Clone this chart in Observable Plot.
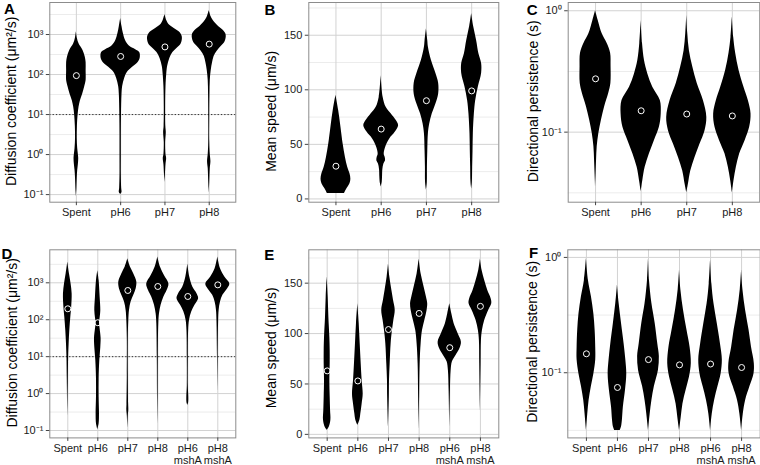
<!DOCTYPE html>
<html><head><meta charset="utf-8">
<script src="https://cdn.jsdelivr.net/npm/d3@7"></script>
<script src="https://cdn.jsdelivr.net/npm/@observablehq/plot@0.6"></script>
<style>
body{margin:0;background:#fff;}
#root{position:relative;width:760px;height:465px;overflow:hidden;font-family:"Liberation Sans",Arial,Helvetica,sans-serif;}
.panel{position:absolute;}
.panel svg{overflow:visible;}
</style></head><body><div id="root"></div>
<script>
// ---- categories / tick labels ----
const catsTop = ["Spent", "pH6", "pH7", "pH8"];
const catsBottom = ["Spent", "pH6", "pH7", "pH8", "pH6\nmshA", "pH8\nmshA"];
const decadesAD = [-1, 0, 1, 2, 3];          // log10 of major ticks
const halfDecadesAD = [-0.5, 0.5, 1.5, 2.5, 3.5];
const decadesCF = [-1, 0];
const halfDecadesCF = [-1.5, -0.5];
const speedTicks = [0, 50, 100, 150];
const speedMinor = [25, 75, 125, 175];

// ---- violin profiles: [value (log10 for log panels), half-width as fraction of category spacing] ----
// A: Diffusion coefficient (log10 µm²/s)
const profA = [
  [[3.07,0],[2.9,.023],[2.77,.06],[2.6,.15],[2.44,.2],[2.3,.22],[2.1,.22],[1.85,.22],[1.7,.19],[1.5,.14],[1.34,.09],[1.18,.06],[1.0,.04],[0.7,.023],[0.4,.019],[0.15,.03],[-0.1,.053],[-0.25,.045],[-0.4,.03],[-0.6,.019],[-0.85,.011],[-1.05,0]],
  [[3.4,0],[3.2,.03],[3.03,.06],[2.85,.11],[2.72,.19],[2.62,.34],[2.55,.43],[2.4,.44],[2.28,.38],[2.18,.27],[2.05,.15],[1.9,.09],[1.7,.045],[1.5,.03],[1.0,.019],[0.5,.015],[0,.015],[-0.5,.015],[-0.85,.023],[-0.95,.03],[-1.0,0]],
  [[3.5,0],[3.35,.04],[3.25,.09],[3.15,.21],[3.05,.34],[2.95,.39],[2.85,.39],[2.75,.36],[2.65,.27],[2.55,.18],[2.4,.11],[2.2,.06],[2.0,.04],[1.7,.023],[1.2,.015],[0.7,.019],[0.55,.03],[0.3,.015],[0,.023],[-0.1,.038],[-0.25,.023],[-0.5,.011],[-0.7,0]],
  [[3.6,0],[3.45,.04],[3.35,.09],[3.2,.21],[3.1,.32],[3.0,.38],[2.9,.38],[2.8,.35],[2.7,.27],[2.58,.18],[2.45,.11],[2.3,.076],[2.1,.045],[1.85,.023],[1.5,.015],[1.0,.011],[0.3,.011],[0,.023],[-0.17,.038],[-0.35,.023],[-0.7,.011],[-0.97,0]]
];
const meansA = [94, 283, 490, 575];

// B: Mean speed (µm/s)
const profB = [
  [[95,0],[81,.06],[66,.11],[50,.16],[38,.21],[29,.26],[23,.31],[18,.33],[14,.31],[9,.24],[5,.19]],
  [[113,0],[93,.044],[84,.11],[78,.22],[72,.33],[67,.385],[61,.31],[55,.19],[47,.096],[41,.067],[38,.089],[35,.096],[32,.06],[27,.037],[20,.03],[15,.022],[11,0]],
  [[156,0],[145,.03],[139,.044],[127,.11],[115,.21],[106,.27],[96,.27],[87,.21],[78,.13],[69,.074],[60,.044],[44,.03],[29,.022],[15,.019],[8,0]],
  [[170,0],[158,.044],[145,.11],[133,.16],[124,.22],[115,.22],[103,.15],[90,.089],[78,.06],[60,.037],[44,.03],[29,.022],[15,.015],[9,0]]
];
const meansB = [30, 64, 90, 99];

// C: Directional persistence (log10 s)
const profC = [
  [[0.0,0],[-0.08,.058],[-0.19,.146],[-0.27,.255],[-0.35,.33],[-0.46,.34],[-0.6,.336],[-0.68,.29],[-0.79,.2],[-0.9,.13],[-1.01,.073],[-1.12,.036],[-1.23,.022],[-1.34,.011],[-1.45,0]],
  [[-0.08,0],[-0.27,.03],[-0.41,.073],[-0.52,.146],[-0.63,.255],[-0.74,.42],[-0.85,.44],[-0.96,.4],[-1.07,.29],[-1.18,.18],[-1.29,.088],[-1.4,.036],[-1.49,0]],
  [[-0.04,0],[-0.19,.022],[-0.33,.058],[-0.46,.13],[-0.6,.23],[-0.74,.365],[-0.88,.44],[-0.99,.4],[-1.1,.29],[-1.21,.18],[-1.32,.088],[-1.43,.036],[-1.5,0]],
  [[-0.05,0],[-0.22,.03],[-0.35,.073],[-0.49,.146],[-0.63,.255],[-0.74,.35],[-0.85,.41],[-0.96,.38],[-1.07,.28],[-1.18,.16],[-1.29,.088],[-1.4,.036],[-1.5,0]]
];
const meansC = [0.275, 0.150, 0.141, 0.136];

// D: Diffusion coefficient (log10 µm²/s)
const profD = [
  [[3.56,0],[3.24,.056],[2.97,.11],[2.7,.145],[2.34,.13],[2.07,.1],[1.71,.067],[1.35,.044],[0.99,.028],[0.35,.017],[-0.6,0]],
  [[3.33,0],[3.06,.044],[2.61,.078],[2.25,.1],[2.05,.078],[1.92,.056],[1.75,.078],[1.5,.11],[1.25,.1],[0.9,.067],[0.4,.044],[-0.1,.044],[-0.55,.056],[-0.82,.044],[-0.98,0]],
  [[3.65,0],[3.42,.09],[3.24,.2],[3.02,.3],[2.84,.28],[2.66,.2],[2.48,.11],[2.25,.056],[1.98,.033],[1.5,.017],[0.5,.017],[-0.3,.028],[-0.45,.033],[-0.6,.017],[-0.95,0]],
  [[3.7,0],[3.42,.09],[3.2,.22],[2.97,.37],[2.79,.31],[2.61,.2],[2.39,.11],[2.16,.056],[1.89,.033],[1.0,.017],[0,.011],[-0.82,0]],
  [[3.51,0],[3.15,.067],[2.88,.17],[2.7,.31],[2.57,.36],[2.39,.24],[2.21,.13],[1.98,.056],[1.71,.028],[1.0,.017],[0.2,.017],[-0.1,.033],[-0.25,.028],[-0.32,0]],
  [[3.7,0],[3.38,.09],[3.15,.24],[2.97,.4],[2.84,.33],[2.66,.17],[2.48,.09],[2.25,.044],[1.98,.028],[1.0,.011],[0.08,0]]
];
const meansD = [198, 83, 620, 795, 426, 880];

// E: Mean speed (µm/s)
const profE = [
  [[156,0],[136,.033],[116,.055],[96,.087],[83,.098],[70,.098],[53.5,.087],[37,.098],[24,.11],[14,.12],[7,.066],[4,0]],
  [[129.5,0],[110,.044],[90,.077],[70,.11],[53.5,.14],[40,.175],[30,.14],[20.5,.098],[14,.066],[9,0]],
  [[169,0],[156,.044],[143,.11],[133,.164],[123,.22],[113,.175],[103,.13],[90,.087],[70,.055],[53.5,.033],[37,.027],[7,0]],
  [[174,0],[159,.066],[146,.164],[136,.24],[129.5,.28],[123,.26],[113,.186],[103,.11],[90,.066],[70,.033],[37,.016],[4,0]],
  [[129.5,0],[119.6,.066],[110,.14],[100,.27],[91.5,.38],[85,.33],[78,.2],[72,.087],[63,.044],[44,.022],[7,0]],
  [[174,0],[162.5,.055],[152.6,.14],[142.7,.24],[134.5,.35],[129.5,.37],[123,.27],[113,.14],[103,.066],[93,.033],[70,.022],[22,0]]
];
const meansE = [63, 53, 104, 120, 86, 127];

// F: Directional persistence (log10 s)
const profF = [
  [[-0.01,0],[-0.2,.065],[-0.34,.16],[-0.49,.24],[-0.63,.28],[-0.78,.3],[-0.89,.3],[-1.01,.24],[-1.12,.16],[-1.24,.086],[-1.36,.043],[-1.5,0]],
  [[-0.24,0],[-0.4,.054],[-0.57,.13],[-0.75,.215],[-0.89,.27],[-1.01,.3],[-1.15,.26],[-1.3,.19],[-1.41,.16],[-1.47,.13],[-1.5,.09]],
  [[-0.01,0],[-0.2,.032],[-0.4,.11],[-0.57,.215],[-0.75,.3],[-0.86,.35],[-0.98,.32],[-1.12,.19],[-1.24,.11],[-1.36,.054],[-1.5,0]],
  [[-0.11,0],[-0.28,.043],[-0.46,.13],[-0.63,.24],[-0.78,.34],[-0.92,.38],[-1.04,.32],[-1.15,.215],[-1.27,.11],[-1.39,.054],[-1.5,0]],
  [[-0.02,0],[-0.23,.043],[-0.4,.11],[-0.57,.215],[-0.75,.32],[-0.89,.38],[-1.01,.34],[-1.12,.24],[-1.24,.13],[-1.36,.054],[-1.5,0]],
  [[-0.11,0],[-0.28,.043],[-0.46,.13],[-0.63,.24],[-0.78,.32],[-0.92,.41],[-1.01,.4],[-1.12,.27],[-1.24,.13],[-1.36,.054],[-1.5,0]]
];
const meansF = [0.146, 0.0745, 0.130, 0.117, 0.119, 0.111];

const labelDiff = "Diffusion coefficient (μm²/s)";
const labelSpeed = "Mean speed (μm/s)";
const labelPers = "Directional persistence (s)";

// ---- drawing ----
const SUP = "⁰¹²³⁴⁵⁶⁷⁸⁹";
const sup10 = (e) => "10" + String(e).replace("-", "⁻").replace(/\d/g, (d) => SUP[+d]);

function panel(o) {
  const n = o.cats.length;
  const idx = d3.range(1, n + 1);
  const rows = [];
  o.profiles.forEach((p, i) => p.forEach(([v, w]) => rows.push({cat: i + 1, y: o.log ? 10 ** v : v, w})));
  const means = o.means.map((m, i) => ({cat: i + 1, y: m}));
  const major = o.log ? o.ticks.map((e) => 10 ** e) : o.ticks;
  const minor = o.log ? o.minor.map((e) => 10 ** e) : o.minor;
  const chart = Plot.plot({
    width: o.width, height: o.height,
    marginLeft: o.ml, marginRight: o.mr, marginTop: o.mt, marginBottom: o.mb,
    style: {fontFamily: '"Liberation Sans", Arial, Helvetica, sans-serif', fontSize: "11px", color: "#222", background: "transparent", overflow: "visible"},
    x: {type: "linear", domain: [0.4, n + 0.6], axis: null},
    y: {type: o.log ? "log" : "linear", domain: o.yDomain, axis: null},
    marks: [
      Plot.gridY(minor, {stroke: "#ececec", strokeOpacity: 1}),
      Plot.gridY(major, {stroke: "#d2d2d2", strokeOpacity: 1}),
      Plot.gridX(idx, {stroke: "#d2d2d2", strokeOpacity: 1}),
      o.dotted ? Plot.ruleY([10], {stroke: "#333", strokeDasharray: "1.3,2", strokeWidth: 1}) : null,
      Plot.areaX(rows, {y: "y", x1: (d) => d.cat - d.w, x2: (d) => d.cat + d.w, z: "cat", fill: "#000", curve: "catmull-rom"}),
      Plot.dot(means, {x: "cat", y: "y", r: 3, stroke: "#fff", strokeWidth: 1, fill: "none"}),
      Plot.frame({stroke: "#8c8c8c"}),
      Plot.axisY(major, {label: null, tickFormat: o.log ? (d) => sup10(Math.round(Math.log10(d))) : (d) => String(d), tickSize: 3.5, tickPadding: 3, fontSize: 11, stroke: "#444", fill: "#1a1a1a"}),
      Plot.axisX(idx, {label: null, tickFormat: (d) => o.cats[d - 1], tickSize: 3.5, tickPadding: 2.5, fontSize: 11, lineHeight: 1.05, stroke: "#444", fill: "#1a1a1a"}),
      Plot.text([o.ylabel], {text: (d) => d, frameAnchor: "left", textAnchor: "middle", lineAnchor: "middle", dx: o.ldx, dy: o.ldy, rotate: -90, fontSize: 14, fill: "#000"}),
      Plot.text([o.letter], {text: (d) => d, frameAnchor: "top-left", dx: o.gdx, dy: o.gdy, textAnchor: "middle", lineAnchor: "middle", fontSize: 15, fontWeight: "bold", fill: "#000"})
    ]
  });
  const div = document.createElement("div");
  div.className = "panel";
  div.style.left = o.x + "px";
  div.style.top = o.y + "px";
  div.appendChild(chart);
  document.getElementById("root").appendChild(div);
}

panel({x: 0, y: 0, width: 245, height: 230, ml: 49.3, mr: 9.7, mt: 2, mb: 28.3,
  cats: catsTop, profiles: profA, means: meansA, log: true, yDomain: [10 ** -1.19, 10 ** 3.8],
  ticks: decadesAD, minor: halfDecadesAD, dotted: true, ylabel: labelDiff, ldx: -38.6, ldy: -1, letter: "A", gdx: -40.5, gdy: 6.7});
panel({x: 250, y: 0, width: 250, height: 230, ml: 58.3, mr: 1.7, mt: 2, mb: 28.3,
  cats: catsTop, profiles: profB, means: meansB, log: false, yDomain: [-3, 180],
  ticks: speedTicks, minor: speedMinor, ylabel: labelSpeed, ldx: -37.6, ldy: 9, letter: "B", gdx: -39, gdy: 7.7});
panel({x: 505, y: 0, width: 255, height: 230, ml: 62.7, mr: 0.8, mt: 2, mb: 28.3,
  cats: catsTop, profiles: profC, means: meansC, log: true, yDomain: [10 ** -1.577, 10 ** 0.068],
  ticks: decadesCF, minor: halfDecadesCF, ylabel: labelPers, ldx: -34.4, ldy: -1, letter: "C", gdx: -36, gdy: 7.5});
panel({x: 0, y: 230, width: 245, height: 235, ml: 49.3, mr: 9.7, mt: 19.3, mb: 27.6,
  cats: catsBottom, profiles: profD, means: meansD, log: true, yDomain: [10 ** -1.2, 10 ** 3.894],
  ticks: decadesAD, minor: halfDecadesAD, dotted: true, ylabel: labelDiff, ldx: -37.6, ldy: -1, letter: "D", gdx: -43, gdy: 4});
panel({x: 250, y: 230, width: 250, height: 235, ml: 58.3, mr: 1.7, mt: 19.3, mb: 27.6,
  cats: catsBottom, profiles: profE, means: meansE, log: false, yDomain: [-3.5, 183.1],
  ticks: speedTicks, minor: speedMinor, ylabel: labelSpeed, ldx: -37.5, ldy: 4, letter: "E", gdx: -39.6, gdy: 5.4});
panel({x: 505, y: 230, width: 255, height: 235, ml: 62.3, mr: 0.3, mt: 19.3, mb: 27.6,
  cats: catsBottom, profiles: profF, means: meansF, log: true, yDomain: [10 ** -1.565, 10 ** 0.066],
  ticks: decadesCF, minor: halfDecadesCF, ylabel: labelPers, ldx: -35, ldy: -2, letter: "F", gdx: -34.3, gdy: 3.7});
</script></body></html>
